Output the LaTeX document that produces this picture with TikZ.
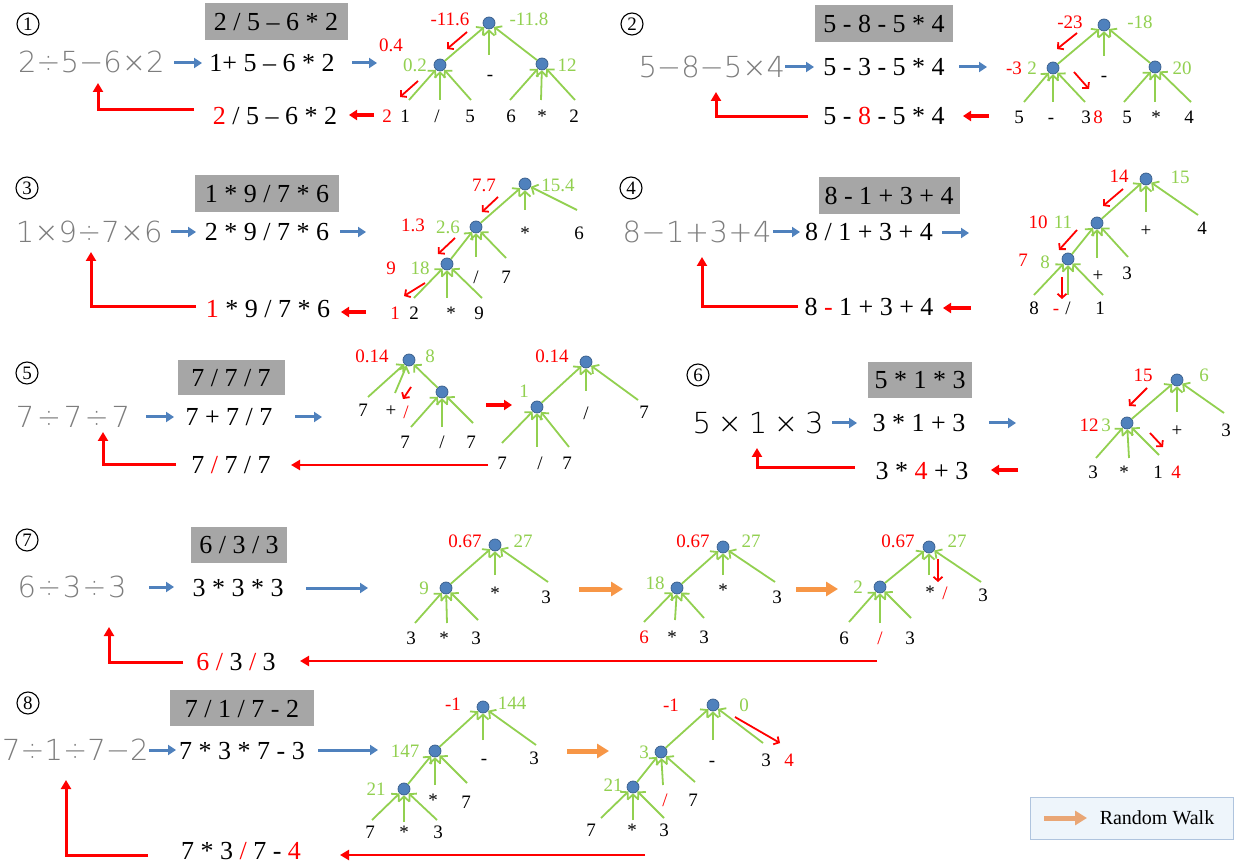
\documentclass[tikz,border=0pt]{standalone}
\usepackage{fontspec}
\setmainfont{Liberation Serif}
\IfFontExistsTF{DejaVu Sans ExtraLight}{\newfontfamily\handf{DejaVu Sans ExtraLight}}{\newfontfamily\handf{Liberation Sans}}
\usetikzlibrary{arrows.meta}
\definecolor{lgreen}{RGB}{146,208,80}
\definecolor{nodeblue}{RGB}{79,129,189}
\definecolor{nodeedge}{RGB}{56,93,138}
\definecolor{arrowblue}{RGB}{79,129,189}
\definecolor{boxgray}{RGB}{166,166,166}
\definecolor{hwgray}{RGB}{125,125,125}
\definecolor{orangeA}{RGB}{247,150,70}
\definecolor{orangeL}{RGB}{233,166,117}
\definecolor{legfill}{RGB}{238,245,251}
\definecolor{legedge}{RGB}{175,196,222}
\newcommand\fs[1]{\fontsize{#1}{#1}\selectfont}
\newcommand\garw[3]{\coordinate (#1) at #2; \draw[garr] (#1) -- (#3);}
\newcommand\arw[4]{\coordinate (#2a) at #3; \coordinate (#2b) at #4; \draw[#1] (#2a) -- (#2b);}
\newcommand\hwn[4]{\node[hw] (#1) at #2 {\hbox to #3pt{#4}};}
\newcommand\fbk[3]{\coordinate (#1a) at #2; \coordinate (#1b) at #3; \draw[fb] (#1a) -| (#1b);}
\begin{document}
\begin{tikzpicture}[x=1pt,y=-1pt,
  mt/.style={inner sep=0pt, text height=18pt, text depth=0pt, font=\fs{26}},
  lf/.style={inner sep=0pt, text height=13pt, text depth=0pt, font=\fs{19}},
  gl/.style={lf, text=lgreen},
  rl/.style={lf, text=red},
  gbox/.style={fill=boxgray, inner sep=0pt, font=\fs{26}, text height=18pt, text depth=0pt, minimum height=37pt},
  hw/.style={inner sep=0pt, font=\handf\fs{29}, text=hwgray, text height=21pt, text depth=0pt},
  circ/.style={circle, draw=black, line width=1.1pt, minimum size=22pt, inner sep=0pt, font=\fs{19}, text height=13pt, text depth=0pt},
  dot/.style={circle, fill=nodeblue, draw=nodeedge, line width=0.7pt, minimum size=12pt, inner sep=0pt},
  garr/.style={lgreen, line width=1.8pt, -{Straight Barb[length=5pt,width=11pt]}},
  rarr/.style={red, line width=1.8pt, -{Straight Barb[length=4pt,width=9pt]}},
  barr/.style={arrowblue, line width=3pt, -{Triangle[length=8pt,width=10pt]}},
  rbig/.style={red, line width=3.5pt, -{Triangle[length=8pt,width=10pt]}},
  fb/.style={red, line width=3pt, -{Triangle[length=9pt,width=10pt]}},
  lred/.style={red, line width=2.5pt, -{Triangle[length=9pt,width=10pt]}},
  oarr/.style={orangeA, line width=5pt, -{Triangle[length=12pt,width=14pt]}},
  larr/.style={orangeL, line width=5pt, -{Triangle[length=12pt,width=14pt]}}
]
\fill[white] (0,0) rectangle (1235,866);
\useasboundingbox (0,0) rectangle (1235,866);

% ================= Panel 1 =================
\node[circ] (n1) at (28,24) {1};
\node[gbox, minimum width=143pt] (g1) at (276,22) {2 / 5 – 6 * 2};
\hwn{h1}{(90,62)}{144}{2\hfill÷\hfill5\hfill−\hfill6\hfill×\hfill2}
\node[mt] (m1) at (272,63) {1+ 5 – 6 * 2};
\arw{barr}{p1b1}{(174,63)}{(202,63)}
\arw{barr}{p1b2}{(352,63)}{(377,63)}
\node[dot] (t1r) at (489,23) {};
\node[dot] (t1a) at (440,65) {};
\node[dot] (t1b) at (542,64) {};
\draw[garr] (t1a) -- (t1r);
\draw[garr] (t1b) -- (t1r);
\garw{t1m}{(489,55)}{t1r}
\garw{t1s1}{(409,100)}{t1a}
\garw{t1s2}{(440,100)}{t1a}
\garw{t1s3}{(471,100)}{t1a}
\garw{t1s4}{(510,100)}{t1b}
\garw{t1s5}{(541,100)}{t1b}
\garw{t1s6}{(575,100)}{t1b}
\node[lf] (t1x0) at (490,74) {-};
\node[rl] (t1x1) at (387,116) {2};
\node[lf] (t1x2) at (405,116) {1};
\node[lf] (t1x3) at (437,116) {/};
\node[lf] (t1x4) at (470,116) {5};
\node[lf] (t1x5) at (511,116) {6};
\node[lf] (t1x6) at (542,116) {*};
\node[lf] (t1x7) at (574,116) {2};
\node[rl] (t1v1) at (450,19) {-11.6};
\node[gl] (t1v2) at (529,19) {-11.8};
\node[rl] (t1v3) at (391,45) {0.4};
\node[gl] (t1v4) at (415,65) {0.2};
\node[gl] (t1v5) at (567,65) {12};
\arw{rarr}{t1q}{(467,32)}{(447,49)}
\arw{rarr}{t1p}{(418,81)}{(400,97)}
\arw{rbig}{p1r}{(374,115)}{(349,115)}
\node[mt] (e1) at (275,116) {{\color{red}2} / 5 – 6 * 2};
\fbk{p1f}{(194,110)}{(98,83)}

% ================= Panel 2 =================
\node[circ] (n2) at (632,24) {2};
\node[gbox, minimum width=138pt] (g2) at (884,24) {5 - 8 - 5 * 4};
\hwn{h2}{(710,67)}{143}{5\hfill−\hfill8\hfill−\hfill5\hfill×\hfill4}
\node[mt] (m2) at (884,67) {5 - 3 - 5 * 4};
\arw{barr}{p2b1}{(785,67)}{(814,67)}
\arw{barr}{p2b2}{(959,67)}{(987,67)}
\node[dot] (t2r) at (1104,25) {};
\node[dot] (t2a) at (1053,68) {};
\node[dot] (t2b) at (1155,67) {};
\draw[garr] (t2a) -- (t2r);
\draw[garr] (t2b) -- (t2r);
\garw{t2m}{(1104,56)}{t2r}
\garw{t2s1}{(1024,102)}{t2a}
\garw{t2s2}{(1053,102)}{t2a}
\garw{t2s3}{(1085,102)}{t2a}
\garw{t2s4}{(1124,102)}{t2b}
\garw{t2s5}{(1155,102)}{t2b}
\garw{t2s6}{(1191,102)}{t2b}
\node[lf] (t2x0) at (1104,75) {-};
\node[lf] (t2x1) at (1019,117) {5};
\node[lf] (t2x2) at (1051,117) {-};
\node[lf] (t2x3) at (1086,117) {3};
\node[rl] (t2x4) at (1098,117) {8};
\node[lf] (t2x5) at (1127,117) {5};
\node[lf] (t2x6) at (1156,117) {*};
\node[lf] (t2x7) at (1189,117) {4};
\node[rl] (t2v1) at (1070,22) {-23};
\node[gl] (t2v2) at (1140,22) {-18};
\node[rl] (t2v3) at (1014,68) {-3};
\node[gl] (t2v4) at (1032,68) {2};
\node[gl] (t2v5) at (1182,68) {20};
\arw{rarr}{t2q}{(1077,33)}{(1057,49)}
\arw{rarr}{t2p}{(1074,72)}{(1089,89)}
\arw{rbig}{p2r}{(989,116)}{(963,116)}
\node[mt] (e2) at (884,116) {5 - {\color{red}8} - 5 * 4};
\fbk{p2f}{(808,117)}{(716,92)}

% ================= Panel 3 =================
\node[circ] (n3) at (27,188) {3};
\node[gbox, minimum width=144pt] (g3) at (267,194) {1 * 9 / 7 * 6};
\hwn{h3}{(89,232)}{146}{1\hfill×\hfill9\hfill÷\hfill7\hfill×\hfill6}
\node[mt] (m3) at (267,232) {2 * 9 / 7 * 6};
\arw{barr}{p3b1}{(171,232)}{(196,232)}
\arw{barr}{p3b2}{(340,232)}{(366,232)}
\node[dot] (t3r) at (525,184) {};
\node[dot] (t3a) at (476,227) {};
\node[dot] (t3b) at (447,264) {};
\draw[garr] (t3a) -- (t3r);
\draw[garr] (t3b) -- (t3a);
\garw{t3m}{(525,210)}{t3r}
\garw{t3n}{(577,210)}{t3r}
\garw{t3k}{(476,257)}{t3a}
\garw{t3j}{(506,258)}{t3a}
\garw{t3s1}{(414,298)}{t3b}
\garw{t3s2}{(447,298)}{t3b}
\garw{t3s3}{(482,298)}{t3b}
\node[lf] (t3x0) at (525,233) {*};
\node[lf] (t3x1) at (579,233) {6};
\node[lf] (t3x2) at (476,277) {/};
\node[lf] (t3x3) at (506,277) {7};
\node[rl] (t3x4) at (395,313) {1};
\node[lf] (t3x5) at (414,313) {2};
\node[lf] (t3x6) at (451,313) {*};
\node[lf] (t3x7) at (479,313) {9};
\node[rl] (t3v1) at (484,185) {7.7};
\node[gl] (t3v2) at (558,185) {15.4};
\node[rl] (t3v3) at (413,225) {1.3};
\node[gl] (t3v4) at (448,227) {2.6};
\node[rl] (t3v5) at (391,268) {9};
\node[gl] (t3v6) at (420,268) {18};
\arw{rarr}{t3q}{(498,197)}{(482,212)}
\arw{rarr}{t3p}{(455,238)}{(438,254)}
\arw{rarr}{t3o}{(425,283)}{(404,296)}
\arw{rbig}{p3r}{(366,312)}{(341,312)}
\node[mt] (e3) at (268,309) {{\color{red}1} * 9 / 7 * 6};
\fbk{p3f}{(196,307)}{(91,252)}

% ================= Panel 4 =================
\node[circ] (n4) at (631,188) {4};
\node[gbox, minimum width=141pt] (g4) at (889,196) {8 - 1 + 3 + 4};
\hwn{h4}{(697,232)}{149}{8\hfill−\hfill1\hfill+\hfill3\hfill+\hfill4}
\node[mt] (m4) at (869,232) {8 / 1 + 3 + 4};
\arw{barr}{p4b1}{(773,232)}{(800,232)}
\arw{barr}{p4b2}{(942,233)}{(969,233)}
\node[dot] (t4r) at (1146,179) {};
\node[dot] (t4a) at (1097,223) {};
\node[dot] (t4b) at (1068,259) {};
\draw[garr] (t4a) -- (t4r);
\draw[garr] (t4b) -- (t4a);
\garw{t4m}{(1146,212)}{t4r}
\garw{t4n}{(1198,215)}{t4r}
\garw{t4k}{(1097,258)}{t4a}
\garw{t4j}{(1128,257)}{t4a}
\garw{t4s1}{(1034,295)}{t4b}
\garw{t4s2}{(1068,295)}{t4b}
\garw{t4s3}{(1103,295)}{t4b}
\node[lf] (t4x0) at (1146,230) {+};
\node[lf] (t4x1) at (1202,228) {4};
\node[lf] (t4x2) at (1098,275) {+};
\node[lf] (t4x3) at (1127,273) {3};
\node[lf] (t4x4) at (1034,308) {8};
\node[rl] (t4x5) at (1056,308) {-};
\node[lf] (t4x6) at (1068,308) {/};
\node[lf] (t4x7) at (1100,308) {1};
\node[rl] (t4v1) at (1119,176) {14};
\node[gl] (t4v2) at (1180,177) {15};
\node[rl] (t4v3) at (1038,222) {10};
\node[gl] (t4v4) at (1063,222) {11};
\node[rl] (t4v5) at (1023,260) {7};
\node[gl] (t4v6) at (1045,262) {8};
\arw{rarr}{t4q}{(1123,189)}{(1103,206)}
\arw{rarr}{t4p}{(1077,230)}{(1059,250)}
\arw{rarr}{t4o}{(1062,277)}{(1062,299)}
\arw{rbig}{p4r}{(971,308)}{(943,308)}
\node[mt] (e4) at (869,307) {8 {\color{red}-} 1 + 3 + 4};
\fbk{p4f}{(798,307)}{(702,257)}

% ================= Panel 5 =================
\node[circ] (n5) at (27,373) {5};
\node[gbox, minimum width=107pt, minimum height=35pt] (g5) at (231,378) {7 / 7 / 7};
\hwn{h5}{(73,417)}{114}{7\hfill÷\hfill7\hfill÷\hfill7}
\node[mt] (m5) at (229,417) {7 + 7 / 7};
\arw{barr}{p5b1}{(146,417)}{(174,417)}
\arw{barr}{p5b2}{(295,417)}{(322,417)}
% tree A
\node[dot] (t5r) at (409,360) {};
\node[dot] (t5a) at (442,392) {};
\draw[garr] (t5a) -- (t5r);
\garw{t5m}{(368,397)}{t5r}
\garw{t5n}{(395,393)}{t5r}
\garw{t5s1}{(411,427)}{t5a}
\garw{t5s2}{(442,427)}{t5a}
\garw{t5s3}{(473,423)}{t5a}
\node[lf] (t5x0) at (363,410) {7};
\node[lf] (t5x1) at (391,410) {+};
\node[rl] (t5x2) at (406,412) {/};
\node[lf] (t5x3) at (405,442) {7};
\node[lf] (t5x4) at (442,442) {/};
\node[lf] (t5x5) at (471,442) {7};
\node[rl] (t5v1) at (372,356) {0.14};
\node[gl] (t5v2) at (430,356) {8};
\arw{rarr}{t5q}{(411,387)}{(403,399)}
\arw{rbig}{p5m}{(486,405)}{(512,405)}
% tree B
\node[dot] (t6r) at (586,362) {};
\node[dot] (t6a) at (537,407) {};
\draw[garr] (t6a) -- (t6r);
\garw{t6m}{(586,391)}{t6r}
\garw{t6n}{(638,400)}{t6r}
\garw{t6s1}{(502,443)}{t6a}
\garw{t6s2}{(537,447)}{t6a}
\garw{t6s3}{(569,447)}{t6a}
\node[lf] (t6x0) at (586,413) {/};
\node[lf] (t6x1) at (644,412) {7};
\node[lf] (t6x2) at (502,463) {7};
\node[lf] (t6x3) at (540,463) {/};
\node[lf] (t6x4) at (567,463) {7};
\node[rl] (t6v1) at (552,356) {0.14};
\node[gl] (t6v2) at (524,391) {1};
\arw{lred}{p5r}{(488,465)}{(291,465)}
\node[mt] (e5) at (231,465) {7 {\color{red}/} 7 / 7};
\fbk{p5f}{(176,465)}{(103,432)}

% ================= Panel 6 =================
\node[circ] (n6) at (698,375) {6};
\node[gbox, minimum width=104pt, minimum height=36pt] (g6) at (920,380) {5 * 1 * 3};
\node[hw, text=black] (h6) at (758,423) {\hbox to 131pt{5\hfill×\hfill1\hfill×\hfill3}};
\node[mt] (m6) at (919,423) {3 * 1 + 3};
\arw{barr}{p6b1}{(832,423)}{(857,423)}
\arw{barr}{p6b2}{(989,423)}{(1016,423)}
\node[dot] (t7r) at (1177,380) {};
\node[dot] (t7a) at (1127,423) {};
\draw[garr] (t7a) -- (t7r);
\garw{t7m}{(1177,412)}{t7r}
\garw{t7n}{(1224,413)}{t7r}
\garw{t7s1}{(1096,458)}{t7a}
\garw{t7s2}{(1129,458)}{t7a}
\garw{t7s3}{(1159,455)}{t7a}
\node[lf] (t7x0) at (1177,430) {+};
\node[lf] (t7x1) at (1226,430) {3};
\node[lf] (t7x2) at (1093,472) {3};
\node[lf] (t7x3) at (1124,472) {*};
\node[lf] (t7x4) at (1158,472) {1};
\node[rl] (t7x5) at (1176,472) {4};
\node[rl] (t7v1) at (1143,375) {15};
\node[gl] (t7v2) at (1204,375) {6};
\node[rl] (t7v3) at (1089,425) {12};
\node[gl] (t7v4) at (1106,425) {3};
\arw{rarr}{t7q}{(1147,388)}{(1129,406)}
\arw{rarr}{t7p}{(1150,433)}{(1163,447)}
\arw{rbig}{p6r}{(1018,470)}{(991,470)}
\node[mt] (e6) at (922,470) {3 * {\color{red}4} + 3};
\fbk{p6f}{(855,468)}{(757,448)}

% ================= Panel 7 =================
\node[circ] (n7) at (27,540) {7};
\node[gbox, minimum width=96pt, minimum height=36pt] (g7) at (239,545) {6 / 3 / 3};
\hwn{h7}{(72,587)}{109}{6\hfill÷\hfill3\hfill÷\hfill3}
\node[mt] (m7) at (238,587) {3 * 3 * 3};
\arw{barr}{p7b1}{(149,587)}{(174,587)}
\arw{barr}{p7b2}{(306,588)}{(368,588)}
% tree 1
\node[dot] (t8r) at (495,545) {};
\node[dot] (t8a) at (446,588) {};
\draw[garr] (t8a) -- (t8r);
\garw{t8m}{(495,575)}{t8r}
\garw{t8n}{(548,582)}{t8r}
\garw{t8s1}{(415,623)}{t8a}
\garw{t8s2}{(447,623)}{t8a}
\garw{t8s3}{(478,620)}{t8a}
\node[lf] (t8x0) at (495,593) {*};
\node[lf] (t8x1) at (546,597) {3};
\node[lf] (t8x2) at (411,638) {3};
\node[lf] (t8x3) at (444,638) {*};
\node[lf] (t8x4) at (476,638) {3};
\node[rl] (t8v1) at (465,541) {0.67};
\node[gl] (t8v2) at (523,541) {27};
\node[gl] (t8v3) at (424,588) {9};
\arw{oarr}{p7o1}{(579,589)}{(623,589)}
% tree 2
\node[dot] (t9r) at (723,547) {};
\node[dot] (t9a) at (677,588) {};
\draw[garr] (t9a) -- (t9r);
\garw{t9m}{(723,575)}{t9r}
\garw{t9n}{(775,582)}{t9r}
\garw{t9s1}{(644,622)}{t9a}
\garw{t9s2}{(675,620)}{t9a}
\garw{t9s3}{(704,618)}{t9a}
\node[lf] (t9x0) at (723,590) {*};
\node[lf] (t9x1) at (777,597) {3};
\node[rl] (t9x2) at (644,637) {6};
\node[lf] (t9x3) at (672,637) {*};
\node[lf] (t9x4) at (704,637) {3};
\node[rl] (t9v1) at (693,541) {0.67};
\node[gl] (t9v2) at (751,541) {27};
\node[gl] (t9v3) at (655,583) {18};
\arw{oarr}{p7o2}{(796,589)}{(838,589)}
% tree 3
\node[dot] (tAr) at (929,547) {};
\node[dot] (tAa) at (880,587) {};
\draw[garr] (tAa) -- (tAr);
\garw{tAm}{(929,575)}{tAr}
\garw{tAn}{(981,582)}{tAr}
\garw{tAs1}{(849,622)}{tAa}
\garw{tAs2}{(880,623)}{tAa}
\garw{tAs3}{(911,618)}{tAa}
\node[lf] (tAx0) at (930,592) {*};
\node[rl] (tAx1) at (945,593) {/};
\node[lf] (tAx2) at (983,595) {3};
\node[lf] (tAx3) at (844,638) {6};
\node[rl] (tAx4) at (880,638) {/};
\node[lf] (tAx5) at (910,638) {3};
\node[rl] (tAv1) at (898,541) {0.67};
\node[gl] (tAv2) at (957,541) {27};
\node[gl] (tAv3) at (858,587) {2};
\arw{rarr}{tAq}{(938,559)}{(938,582)}
\arw{lred}{p7r}{(877,661)}{(300,661)}
\node[mt] (e7) at (236,661) {{\color{red}6 /} 3 {\color{red}/} 3};
\fbk{p7f}{(183,662)}{(109,627)}

% ================= Panel 8 =================
\node[circ] (n8) at (28,703) {8};
\node[gbox, minimum width=144pt, minimum height=36pt] (g8) at (242,708) {7 / 1 / 7 - 2};
\hwn{h8}{(75,750)}{146}{7\hfill÷\hfill1\hfill÷\hfill7\hfill−\hfill2}
\node[mt] (m8) at (242,750) {7 * 3 * 7 - 3};
\arw{barr}{p8b1}{(149,750)}{(176,750)}
\arw{barr}{p8b2}{(318,750)}{(378,750)}
% tree 1
\node[dot] (tBr) at (483,707) {};
\node[dot] (tBa) at (435,751) {};
\node[dot] (tBb) at (404,789) {};
\draw[garr] (tBa) -- (tBr);
\draw[garr] (tBb) -- (tBa);
\garw{tBm}{(483,740)}{tBr}
\garw{tBn}{(536,745)}{tBr}
\garw{tBk}{(435,785)}{tBa}
\garw{tBj}{(467,783)}{tBa}
\garw{tBs1}{(372,820)}{tBb}
\garw{tBs2}{(404,822)}{tBb}
\garw{tBs3}{(437,820)}{tBb}
\node[lf] (tBx0) at (484,758) {-};
\node[lf] (tBx1) at (534,758) {3};
\node[lf] (tBx2) at (433,800) {*};
\node[lf] (tBx3) at (466,802) {7};
\node[lf] (tBx4) at (370,832) {7};
\node[lf] (tBx5) at (404,832) {*};
\node[lf] (tBx6) at (438,832) {3};
\node[rl] (tBv1) at (453,704) {-1};
\node[gl] (tBv2) at (512,703) {144};
\node[gl] (tBv3) at (405,751) {147};
\node[gl] (tBv4) at (376,789) {21};
\arw{oarr}{p8o}{(567,751)}{(609,751)}
% tree 2
\node[dot] (tCr) at (713,705) {};
\node[dot] (tCa) at (661,752) {};
\node[dot] (tCb) at (633,787) {};
\draw[garr] (tCa) -- (tCr);
\draw[garr] (tCb) -- (tCa);
\garw{tCm}{(713,740)}{tCr}
\garw{tCn}{(763,743)}{tCr}
\garw{tCk}{(663,785)}{tCa}
\garw{tCj}{(695,782)}{tCa}
\garw{tCs1}{(601,818)}{tCb}
\garw{tCs2}{(633,820)}{tCb}
\garw{tCs3}{(664,818)}{tCb}
\node[lf] (tCx0) at (712,760) {-};
\node[lf] (tCx1) at (766,760) {3};
\node[rl] (tCx2) at (789,760) {4};
\node[rl] (tCx3) at (665,800) {/};
\node[lf] (tCx4) at (693,800) {7};
\node[lf] (tCx5) at (591,830) {7};
\node[lf] (tCx6) at (632,830) {*};
\node[lf] (tCx7) at (664,830) {3};
\node[rl] (tCv1) at (671,705) {-1};
\node[gl] (tCv2) at (744,705) {0};
\node[gl] (tCv3) at (644,752) {3};
\node[gl] (tCv4) at (613,785) {21};
\arw{rarr}{tCq}{(735,717)}{(780,743)}
\arw{lred}{p8r}{(645,855)}{(340,855)}
\node[mt] (e8) at (241,850) {7 * 3 {\color{red}/} 7 - {\color{red}4}};
\fbk{p8f}{(148,855)}{(66,780)}

% ================= Legend =================
\node[draw=legedge, fill=legfill, line width=0.8pt, minimum width=203pt, minimum height=42pt, inner sep=0pt] (leg) at (1132,818) {};
\arw{larr}{lga}{(1044,818)}{(1087,818)}
\node[inner sep=0pt, font=\fs{20}] (legt) at (1157,818) {Random Walk};
\end{tikzpicture}
\end{document}
